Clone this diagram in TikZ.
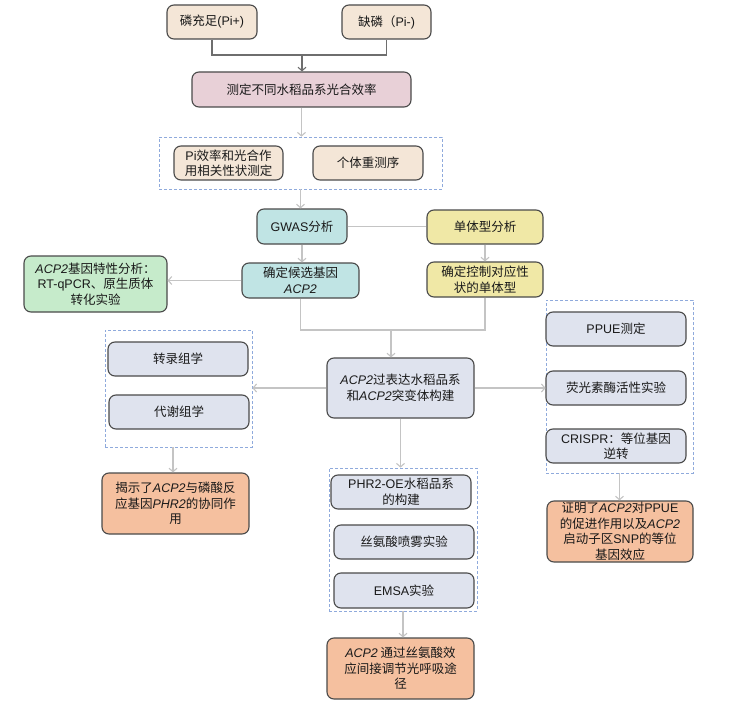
\documentclass[tikz,border=0pt]{standalone}
\usepackage{fontspec}
\setmainfont{Noto Sans CJK SC}
\newfontfamily\lt{Liberation Sans}
\usetikzlibrary{arrows.meta}
\newcommand\gn[1]{{\lt\itshape #1}}
\newcommand\la[1]{{\lt #1}}
\definecolor{bordc}{HTML}{4A4A4A}
\definecolor{beige}{HTML}{F4E6D7}
\definecolor{pinkc}{HTML}{E8D0D7}
\definecolor{tealc}{HTML}{C0E4E4}
\definecolor{yelc}{HTML}{F0E8A6}
\definecolor{greenc}{HTML}{C6EBCB}
\definecolor{grayb}{HTML}{DFE3EE}
\definecolor{orangec}{HTML}{F5C09F}
\definecolor{dashc}{HTML}{8FAADC}
\definecolor{lconn}{HTML}{C4C4C4}
\definecolor{dconn}{HTML}{6E6E6E}
\tikzset{
  box/.style={draw=bordc, line width=1.1pt, rounded corners=7pt, align=center, inner sep=1pt, text=black!90},
  wh/.style 2 args={minimum width=#1, minimum height=#2},
  grp/.style={draw=dashc, line width=0.7pt, dash pattern=on 3pt off 2pt, inner sep=0pt},
  conn/.style={draw=lconn, line width=1.1pt},
  dconnl/.style={draw=dconn, line width=1.1pt},
  arr/.style={-{Straight Barb[length=3.5pt,width=8pt]}},
}
\begin{document}
\begin{tikzpicture}[x=1pt,y=-1pt,font=\fontsize{12.5}{15.5}\selectfont]
\useasboundingbox[fill=white] (0,0) rectangle (742,706);
% groups
\node[grp, wh={283pt}{52pt}] (gtop) at (300.5,163) {};
\node[grp, wh={147pt}{117pt}] (gleft) at (178.5,388.5) {};
\node[grp, wh={148pt}{143pt}] (gmid) at (403,539.5) {};
\node[grp, wh={147pt}{173pt}] (gright) at (619.5,386.5) {};
% boxes
\node[box, fill=beige, wh={90pt}{34pt}] (b1) at (212,22) {磷充足\la{(Pi+)}};
\node[box, fill=beige, wh={89pt}{34pt}] (b2) at (386.5,22) {缺磷（\la{Pi-)}};
\node[box, fill=pinkc, wh={219pt}{35pt}] (b3) at (301.5,89.5) {测定不同水稻品系光合效率};
\node[box, fill=beige, wh={109pt}{34pt}] (pie) at (228.5,163) {\la{Pi}效率和光合作\\用相关性状测定};
\node[box, fill=beige, wh={110pt}{34pt}] (rsq) at (368,163) {个体重测序};
\node[box, fill=tealc, wh={90pt}{35pt}] (gwas) at (302,226.5) {\la{GWAS}分析};
\node[box, fill=yelc, wh={116pt}{34pt}] (hap) at (485,227) {单体型分析};
\node[box, fill=yelc, wh={116pt}{35pt}] (hap2) at (485,279.5) {确定控制对应性\\状的单体型};
\node[box, fill=tealc, wh={117pt}{35pt}] (cand) at (300.5,280.5) {确定候选基因\\\gn{ACP2}};
\node[box, fill=greenc, wh={143pt}{56pt}] (grn) at (95.5,284) {\gn{ACP2}基因特性分析：\\\la{RT-qPCR}、原生质体\\转化实验};
\node[box, fill=grayb, wh={147pt}{60pt}] (acp) at (400.5,388) {\gn{ACP2}过表达水稻品系\\和\gn{ACP2}突变体构建};
\node[box, fill=grayb, wh={140pt}{34pt}] (trn) at (178,359) {转录组学};
\node[box, fill=grayb, wh={140pt}{34pt}] (met) at (179,412) {代谢组学};
\node[box, fill=orangec, wh={147pt}{61pt}] (rev) at (175.5,503.5) {揭示了\gn{ACP2}与磷酸反\\应基因\gn{PHR2}的协同作\\用};
\node[box, fill=grayb, wh={140pt}{34pt}] (phr) at (401,492) {\la{PHR2-OE}水稻品系\\的构建};
\node[box, fill=grayb, wh={140pt}{34pt}] (ser) at (404,542) {丝氨酸喷雾实验};
\node[box, fill=grayb, wh={140pt}{35pt}] (ems) at (404,590.5) {\la{EMSA}实验};
\node[box, fill=orangec, wh={147pt}{61pt}] (fin) at (400.5,668.5) {\gn{ACP2} 通过丝氨酸效\\应间接调节光呼吸途\\径};
\node[box, fill=grayb, wh={140pt}{34pt}] (ppu) at (616,329) {\la{PPUE}测定};
\node[box, fill=grayb, wh={140pt}{34pt}] (luc) at (616,388) {荧光素酶活性实验};
\node[box, fill=grayb, wh={140pt}{34pt}] (cri) at (616,446) {\la{CRISPR}：等位基因\\逆转};
\node[box, fill=orangec, wh={146pt}{61pt}] (prv) at (620,531.5) {证明了\gn{ACP2}对\la{PPUE}\\的促进作用以及\gn{ACP2}\\启动子区\la{SNP}的等位\\基因效应};
% connectors
\coordinate (j1) at (302,55);
\draw[dconnl] (b1.south) |- (j1) -| (b2.south);
\draw[dconnl, arr] (j1) -- (j1 |- b3.north);
\draw[conn, arr] (b3.south) -- (b3.south |- gtop.north);
\draw[conn, arr] (gtop.south) -- (gtop.south |- gwas.north);
\draw[conn] (gwas.east) -- (gwas.east -| hap.west);
\draw[conn, arr] (hap.south) -- (hap2.north);
\draw[conn, arr] (gwas.south) -- (gwas.south |- cand.north);
\draw[conn, arr] (cand.west) -- (cand.west -| grn.east);
\coordinate (j2) at (391,330);
\draw[conn] (cand.south) |- (j2) -| (hap2.south);
\draw[conn, arr] (j2) -- (j2 |- acp.north);
\draw[conn, arr] (acp.west) -- (acp.west -| gleft.east);
\draw[conn, arr] (acp.east) -- (acp.east -| gright.west);
\coordinate (j3) at (173,447);
\draw[conn, arr] (j3) -- (j3 |- rev.north);
\draw[conn, arr] (acp.south) -- (acp.south |- gmid.north);
\draw[conn, arr] (gmid.south) -- (gmid.south |- fin.north);
\draw[conn, arr] (gright.south) -- (gright.south |- prv.north);
\end{tikzpicture}
\end{document}
